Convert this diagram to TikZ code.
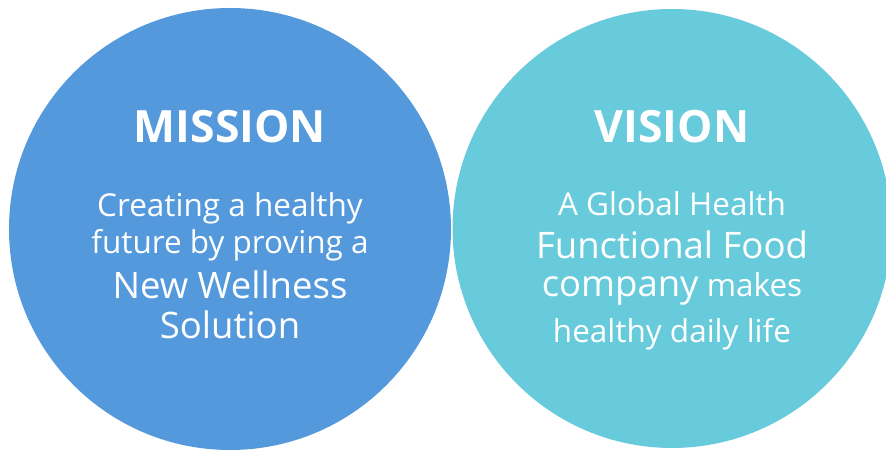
\documentclass[tikz,border=0pt]{standalone}
\usepackage{fontspec}
\setmainfont{Open Sans}
\usepackage{xcolor}
\definecolor{missionblue}{HTML}{5499DC}
\definecolor{visioncyan}{HTML}{68CBDC}

\tikzset{
    title/.style={white, anchor=base, font=\fontsize{44.5}{45}\selectfont\bfseries},
    small/.style={white, anchor=base, font=\fontsize{31.5}{32}\selectfont},
    large/.style={white, anchor=base, font=\fontsize{36.5}{37}\selectfont}
}

\begin{document}
\begin{tikzpicture}[x=1pt, y=1pt]
    \useasboundingbox (0,0) rectangle (886,450);

    % Mission
    \fill[missionblue] (230,221) circle (221);
    \node[title] (mtitle) at (230,307) {MISSION};
    \node[small] (mline1) at (230,233) {Creating a healthy};
    \node[small] (mline2) at (230,196) {future by proving a};
    \node[large] (mline3) at (230,151.5) {New Wellness};
    \node[large] (mline4) at (230,111) {Solution};

    % Vision
    \fill[visioncyan] (672,221.5) circle (219.5);
    \node[title] (vtitle) at (672,307) {VISION};
    \node[small] (vline1) at (672,234) {A Global Health};
    \node[large] (vline2) at (672,191) {Functional Food};
    \node[small] (vline3) at (672,153) {{\fontsize{36.5}{37}\selectfont company} makes};
    \node[small] (vline4) at (672,107) {healthy daily life};
\end{tikzpicture}
\end{document}
